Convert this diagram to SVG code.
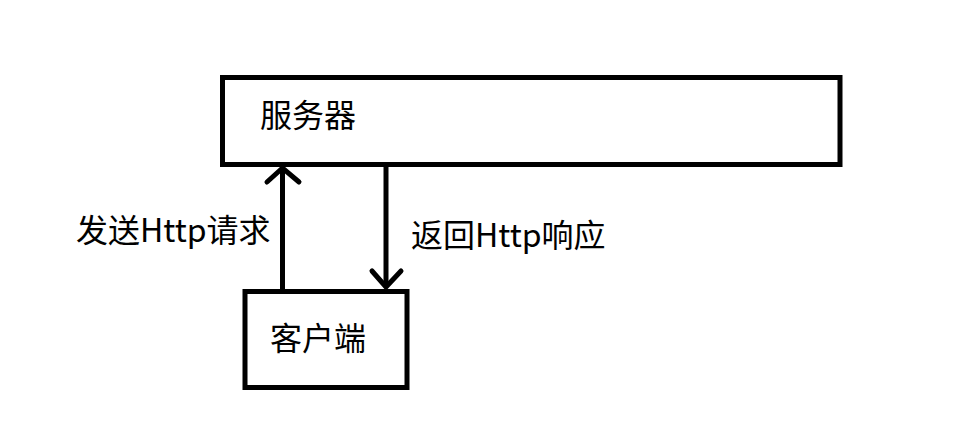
<svg xmlns="http://www.w3.org/2000/svg" width="973" height="447" viewBox="0 0 973 447">
<style>
.box{fill:#fff;stroke:#000;stroke-width:5}
.ln{fill:none;stroke:#000;stroke-width:5;stroke-linecap:butt}
.hd{fill:none;stroke:#000;stroke-width:5;stroke-linecap:round;stroke-linejoin:miter}
text{font-family:"Microsoft YaHei","Noto Sans CJK SC",sans-serif;font-size:32px;fill:#000}
</style>
<rect width="973" height="447" fill="#fff"/>
<g id="server">
<rect class="box" x="222.5" y="77.5" width="617.5" height="87"/>
<text x="260" y="127">服务器</text>
</g>
<g id="client">
<rect class="box" x="245" y="291.5" width="162" height="96"/>
<text x="270" y="350">客户端</text>
</g>
<g id="connectors">
<line class="ln" x1="282.5" y1="290" x2="282.5" y2="168"/>
<polyline class="hd" points="267,182 282.5,168 299,182"/>
<text x="76" y="242">发送Http请求</text>
<line class="ln" x1="386" y1="166" x2="386" y2="287"/>
<polyline class="hd" points="372,271 386,287 401,271"/>
<text x="411" y="247">返回Http响应</text>
</g>
</svg>
